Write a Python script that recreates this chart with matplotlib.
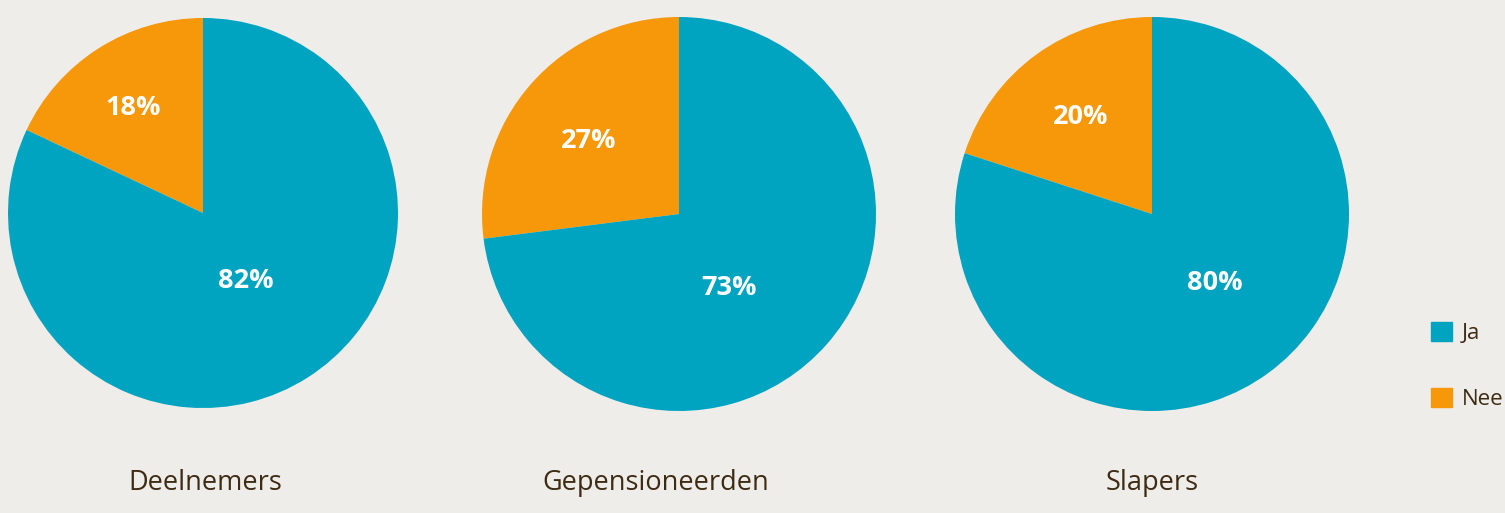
import matplotlib.pyplot as plt
from matplotlib.patches import Patch

groups = ['Deelnemers', 'Gepensioneerden', 'Slapers']
ja = [82, 73, 80]
nee = [18, 27, 20]
legend_labels = ['Ja', 'Nee']

blue = '#00a3c0'
orange = '#f7970a'
bg = '#efedea'
brown = '#3d2b12'

plt.rcParams['font.family'] = ['Open Sans', 'DejaVu Sans']

W, H = 1505, 513
fig = plt.figure(figsize=(W / 100, H / 100), dpi=100, facecolor=bg)

# pie centres and radii in pixels (from top-left)
centres = [(203, 213, 195), (679, 214, 197), (1152, 214, 197)]
title_x = [205, 656, 1152]
# label offsets in units of the radius
nee_pos = [(-0.36, 0.54), (-0.46, 0.37), (-0.36, 0.49)]
ja_pos = [(0.22, -0.35), (0.254, -0.376), (0.32, -0.35)]

for i, (cx, cy, r) in enumerate(centres):
    ax = fig.add_axes([(cx - r) / W, (H - cy - r) / H, 2 * r / W, 2 * r / H])
    ax.set_facecolor(bg)
    ax.pie([nee[i], ja[i]], colors=[orange, blue], startangle=90,
           counterclock=True, radius=1, wedgeprops=dict(linewidth=0))
    ax.text(*nee_pos[i], f'{nee[i]}%', ha='center', va='center',
            color='white', fontsize=19.5, fontweight='bold')
    ax.text(*ja_pos[i], f'{ja[i]}%', ha='center', va='center',
            color='white', fontsize=19.5, fontweight='bold')
    ax.set_xlim(-1, 1)
    ax.set_ylim(-1, 1)
    ax.axis('off')
    fig.text(title_x[i] / W, 1 - 483 / H, groups[i], ha='center', va='center',
             color=brown, fontsize=19.5)

handles = [Patch(color=blue), Patch(color=orange)]
fig.legend(handles, legend_labels, loc='center left', bbox_to_anchor=(1411 / W, 1 - 366 / H),
           frameon=False, fontsize=16, labelcolor=brown, handlelength=0.95, handleheight=0.95,
           labelspacing=2.0, handletextpad=0.45)

fig.savefig('out.png', dpi=100, facecolor=bg)
